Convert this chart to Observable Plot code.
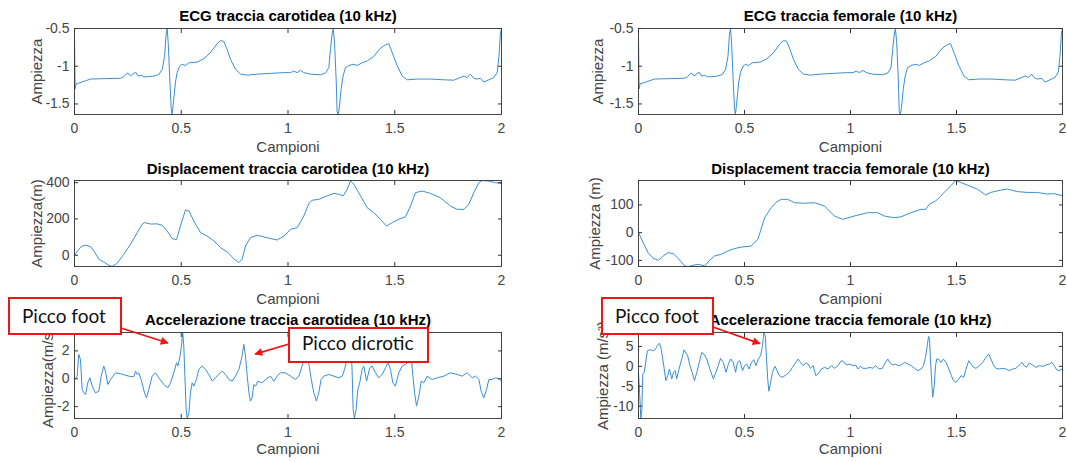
<!DOCTYPE html>
<html><head><meta charset="utf-8">
<script src="https://cdn.jsdelivr.net/npm/d3@7"></script>
<script src="https://cdn.jsdelivr.net/npm/@observablehq/plot@0.6"></script>
<style>
html,body{margin:0;padding:0;background:#fff;}
#fig{position:relative;width:1067px;height:462px;overflow:hidden;background:#fff;}
.cell{position:absolute;}
#ann{position:absolute;left:0;top:0;}
</style></head><body><div id="fig"></div><script>
// ---------- data (time in "Campioni" units, amplitude) ----------
const xTicks = [0, 0.5, 1, 1.5, 2];

const ecgSamples = [
[0,-0.62],[0.003,-1.30],[0.008,-1.23],[0.025,-1.22],[0.045,-1.20],[0.075,-1.17],[0.14,-1.165],[0.215,-1.16],[0.231,-1.14],[0.24,-1.11],[0.25,-1.09],[0.262,-1.13],[0.275,-1.10],[0.287,-1.08],[0.298,-1.13],[0.312,-1.12],[0.325,-1.14],[0.34,-1.14],[0.372,-1.13],[0.395,-1.11],[0.411,-1.04],[0.422,-0.87],[0.429,-0.58],[0.434,-0.50],[0.439,-0.69],[0.447,-1.21],[0.453,-1.56],[0.457,-1.64],[0.462,-1.52],[0.473,-1.21],[0.481,-1.08],[0.493,-1.00],[0.504,-0.975],[0.52,-0.99],[0.536,-0.955],[0.575,-0.945],[0.606,-0.90],[0.637,-0.82],[0.668,-0.70],[0.684,-0.66],[0.699,-0.67],[0.715,-0.78],[0.731,-0.91],[0.754,-1.04],[0.778,-1.105],[0.809,-1.118],[0.856,-1.105],[0.918,-1.095],[0.981,-1.085],[1.012,-1.085],[1.027,-1.065],[1.043,-1.085],[1.059,-1.055],[1.074,-1.085],[1.105,-1.105],[1.152,-1.114],[1.176,-1.09],[1.191,-1.02],[1.199,-0.78],[1.207,-0.56],[1.212,-0.505],[1.218,-0.69],[1.226,-1.21],[1.23,-1.60],[1.235,-1.64],[1.24,-1.56],[1.249,-1.30],[1.258,-1.13],[1.269,-1.02],[1.285,-0.99],[1.308,-0.975],[1.324,-0.99],[1.347,-0.955],[1.371,-0.93],[1.402,-0.87],[1.433,-0.76],[1.457,-0.715],[1.472,-0.70],[1.488,-0.82],[1.511,-0.99],[1.535,-1.13],[1.558,-1.18],[1.605,-1.17],[1.667,-1.17],[1.73,-1.18],[1.777,-1.185],[1.808,-1.15],[1.824,-1.13],[1.839,-1.15],[1.854,-1.105],[1.87,-1.16],[1.886,-1.17],[1.902,-1.16],[1.917,-1.21],[1.941,-1.18],[1.964,-1.15],[1.98,-1.08],[1.988,-0.87],[1.995,-0.56],[2.0,-0.51]
];
const ecgTicks = [-1.5, -1, -0.5];

const dispCarotid = [
[0,0],[0.02,33],[0.036,51],[0.052,55],[0.075,48],[0.091,24],[0.114,-22],[0.137,-37],[0.161,-55],[0.176,-62],[0.2,-44],[0.231,5],[0.262,60],[0.294,125],[0.317,171],[0.328,180],[0.356,172],[0.387,173],[0.411,165],[0.434,134],[0.457,92],[0.478,86],[0.496,161],[0.52,250],[0.536,244],[0.559,189],[0.59,125],[0.621,106],[0.653,79],[0.684,42],[0.715,18],[0.746,-18],[0.77,-40],[0.785,-22],[0.801,51],[0.824,97],[0.856,110],[0.887,101],[0.918,92],[0.949,84],[0.981,106],[1.012,143],[1.043,152],[1.074,216],[1.098,286],[1.113,303],[1.144,308],[1.183,327],[1.215,341],[1.238,336],[1.258,327],[1.277,363],[1.293,410],[1.308,391],[1.34,327],[1.371,262],[1.402,235],[1.433,198],[1.461,161],[1.488,180],[1.519,198],[1.55,212],[1.574,271],[1.597,345],[1.628,354],[1.667,341],[1.714,317],[1.761,271],[1.792,253],[1.824,253],[1.847,281],[1.87,345],[1.894,400],[1.909,412],[1.941,409],[1.972,400],[2.0,396]
];
const dispCarotidTicks = [0, 200, 400];

const dispFemoral = [
[0,0],[0.022,-36],[0.045,-72],[0.069,-92],[0.093,-100],[0.115,-85],[0.14,-72],[0.165,-76],[0.19,-95],[0.218,-120],[0.235,-122],[0.257,-118],[0.281,-114],[0.312,-120],[0.335,-100],[0.359,-84],[0.39,-78],[0.422,-66],[0.455,-57],[0.485,-52],[0.532,-48],[0.563,-24],[0.575,5],[0.595,54],[0.626,90],[0.65,110],[0.673,120],[0.704,120],[0.736,108],[0.78,106],[0.83,108],[0.877,96],[0.924,60],[0.963,48],[1.018,60],[1.081,72],[1.128,72],[1.159,60],[1.206,54],[1.238,57],[1.285,72],[1.332,84],[1.355,84],[1.371,102],[1.402,114],[1.442,145],[1.473,169],[1.496,188],[1.52,181],[1.559,169],[1.598,157],[1.638,136],[1.661,145],[1.708,153],[1.74,157],[1.787,148],[1.834,145],[1.881,145],[1.928,139],[1.959,141],[2.0,133]
];
const dispFemoralTicks = [-100, 0, 100];

const accCarotid = [
[0,-0.05],[0.0125,0.19],[0.02,1.75],[0.028,1.39],[0.036,-0.77],[0.044,-1.01],[0.052,-1.13],[0.062,-0.29],[0.072,0.07],[0.083,-0.53],[0.098,-1.01],[0.114,-0.89],[0.125,0.19],[0.137,0.91],[0.145,0.55],[0.156,-0.41],[0.169,-0.05],[0.192,0.43],[0.215,0.36],[0.254,0.19],[0.278,0.14],[0.286,0.55],[0.294,0.31],[0.301,0.43],[0.312,-0.05],[0.328,-1.01],[0.337,-1.37],[0.348,-0.77],[0.364,0.19],[0.379,0.43],[0.395,0.07],[0.418,-0.41],[0.437,-0.65],[0.45,-0.29],[0.465,0.43],[0.478,1.15],[0.484,0.91],[0.493,1.51],[0.501,2.35],[0.507,3.32],[0.512,2.35],[0.517,0.19],[0.523,-2.20],[0.528,-2.85],[0.536,-2.44],[0.543,-1.01],[0.551,-0.29],[0.559,-0.53],[0.571,-0.05],[0.582,0.67],[0.598,0.91],[0.614,0.67],[0.629,0.31],[0.645,-0.17],[0.66,0.07],[0.676,0.31],[0.692,0.55],[0.707,0.31],[0.723,-0.05],[0.738,-0.17],[0.754,0.19],[0.77,0.67],[0.785,1.63],[0.793,2.47],[0.801,1.63],[0.809,0.19],[0.817,-1.01],[0.824,-1.60],[0.832,-1.37],[0.84,-0.41],[0.848,-0.53],[0.859,-0.17],[0.879,-0.29],[0.895,-0.05],[0.918,0.19],[0.934,-0.17],[0.949,0.19],[0.965,0.43],[0.988,0.43],[1.012,0.19],[1.035,-0.05],[1.051,0.19],[1.066,0.91],[1.082,1.6],[1.098,1.03],[1.109,-0.05],[1.121,-1.01],[1.133,-1.60],[1.144,-1.01],[1.155,-0.05],[1.168,0.19],[1.191,0.31],[1.215,0.19],[1.238,0.07],[1.254,0.19],[1.265,0.67],[1.274,1.27],[1.283,2.4],[1.29,3.2],[1.296,2.35],[1.301,0.19],[1.305,-2.20],[1.311,-2.85],[1.319,-2.20],[1.327,-0.77],[1.336,-0.29],[1.347,0.67],[1.355,0.91],[1.368,-0.17],[1.383,0.79],[1.394,0.91],[1.41,0.43],[1.425,0.07],[1.441,0.31],[1.457,0.79],[1.469,1.15],[1.48,0.67],[1.491,-0.29],[1.503,-0.53],[1.519,0.43],[1.535,0.91],[1.55,1.03],[1.561,1.15],[1.571,1.5],[1.577,2.0],[1.582,0.67],[1.593,-1.01],[1.602,-1.96],[1.613,-1.25],[1.624,-0.17],[1.636,-0.29],[1.652,0.19],[1.675,-0.05],[1.699,0.07],[1.73,0.19],[1.761,0.43],[1.792,0.31],[1.816,0.19],[1.839,0.43],[1.863,0.07],[1.878,0.19],[1.894,-0.05],[1.905,-0.89],[1.917,-1.37],[1.93,-0.77],[1.941,-0.05],[1.956,-0.05],[1.972,0.07],[1.988,0.0],[2.0,-0.17]
];
const accCarotidTicks = [-2, 0, 2];

const accFemoral = [
[0,-1.5],[0.005,-6.5],[0.011,-13.1],[0.016,-10.67],[0.02,-1.92],[0.027,-1.5],[0.036,1.83],[0.042,3.92],[0.055,4.17],[0.067,3.92],[0.078,4.17],[0.089,5.17],[0.099,5.83],[0.107,4.33],[0.118,0.58],[0.129,-3.58],[0.138,-2.33],[0.146,-0.67],[0.157,-3.17],[0.165,-1.5],[0.173,-1.08],[0.18,-3.17],[0.191,-0.67],[0.204,1.83],[0.215,4.17],[0.224,3.33],[0.232,2.67],[0.243,0.17],[0.253,-1.5],[0.264,-3.58],[0.275,-1.5],[0.287,1.0],[0.298,3.5],[0.309,3.08],[0.322,1.83],[0.337,-0.67],[0.353,-3.17],[0.365,-1.5],[0.376,0.17],[0.387,2.0],[0.4,1.0],[0.413,-1.5],[0.424,0.58],[0.435,1.83],[0.447,1.0],[0.458,-1.5],[0.467,1.0],[0.478,1.42],[0.491,-1.08],[0.5,0.17],[0.51,0.58],[0.522,-0.67],[0.533,1.0],[0.544,1.67],[0.554,0.17],[0.565,1.83],[0.576,2.67],[0.585,5.17],[0.591,8.5],[0.598,7.67],[0.604,1.83],[0.61,-3.58],[0.615,-6.25],[0.623,-4.0],[0.632,-1.5],[0.643,0],[0.651,-0.67],[0.664,-2.33],[0.679,-2.75],[0.695,-2.17],[0.711,-1.5],[0.726,-0.25],[0.742,1.0],[0.753,1.83],[0.764,1.0],[0.776,0.17],[0.789,0.83],[0.8,0.58],[0.811,-0.5],[0.824,0.17],[0.836,-2.33],[0.847,-1.92],[0.863,-0.67],[0.878,-0.25],[0.894,-0.67],[0.91,0.17],[0.925,-0.5],[0.941,0.17],[0.957,1.42],[0.968,1.17],[0.98,0.33],[0.996,0.58],[1.012,0.17],[1.024,0.33],[1.035,-0.67],[1.046,0],[1.059,-0.5],[1.075,-0.5],[1.093,-0.25],[1.106,-0.5],[1.118,0.17],[1.134,-0.67],[1.15,-0.5],[1.165,1.0],[1.176,1.83],[1.187,0.83],[1.2,0.33],[1.213,0.58],[1.224,0.17],[1.239,0.33],[1.255,1.0],[1.271,0.58],[1.286,0.17],[1.302,-0.5],[1.318,-1.08],[1.333,-0.67],[1.344,0.17],[1.354,2.25],[1.362,5.17],[1.368,7.5],[1.373,6.83],[1.377,1.83],[1.384,-4.83],[1.388,-7.75],[1.395,-4.83],[1.401,0.17],[1.407,1.83],[1.416,1.83],[1.427,1.0],[1.438,1.83],[1.451,1.0],[1.464,-0.67],[1.476,-2.33],[1.485,-3.58],[1.498,-4.0],[1.511,-3.17],[1.522,-2.33],[1.534,-2.75],[1.545,-0.67],[1.558,1.42],[1.569,0.58],[1.58,-0.25],[1.592,-0.5],[1.608,0.17],[1.624,1.0],[1.639,2.25],[1.652,3.08],[1.663,1.83],[1.674,0.33],[1.686,-0.5],[1.702,-0.67],[1.718,-0.5],[1.733,-0.67],[1.749,-1.08],[1.765,-0.67],[1.78,-0.5],[1.796,0.33],[1.809,1.0],[1.82,0.17],[1.831,-0.25],[1.843,0.83],[1.859,0.33],[1.875,-0.25],[1.89,0.17],[1.906,0],[1.922,0.33],[1.937,0.58],[1.95,1.0],[1.961,0.17],[1.972,-0.83],[1.984,-1.08],[2.0,-0.67]
];
const accFemoralTicks = [-10, -5, 0, 5];

// annotation tips (time, amplitude) on the acceleration panels
const footCarotidTip = [0.44, 2.53];
const dicroticCarotidTip = [0.848, 1.74];
const footFemoralTip = [0.575, 5.6];

// ---------- layout ----------
const COLS = [{left: 0, ml: 74, mr: 29}, {left: 537, ml: 101, mr: 5}];
const ROWS = [
  {top: 0,   h: 160, mt: 28, mb: 46, titleDy: -12, xlabDy: 33},
  {top: 150, h: 160, mt: 30, mb: 44, titleDy: -11, xlabDy: 33},
  {top: 300, h: 162, mt: 32, mb: 44, titleDy: -12, xlabDy: 31}
];
const W = 530;
const LINE = "#3a8fd2";
const AXC = "#444";
const FONT = "'Liberation Sans', Arial, Helvetica, sans-serif";
const fmt = d => String(d);

const panels = [
  {row: 0, col: 0, title: "ECG traccia carotidea (10 kHz)", ylabel: "Ampiezza", ylabDx: -37, data: ecgSamples, yTicks: ecgTicks},
  {row: 0, col: 1, title: "ECG traccia femorale (10 kHz)", ylabel: "Ampiezza", ylabDx: -40, data: ecgSamples, yTicks: ecgTicks},
  {row: 1, col: 0, title: "Displacement traccia carotidea (10 kHz)", ylabel: "Ampiezza(m)", ylabDx: -37, data: dispCarotid, yTicks: dispCarotidTicks},
  {row: 1, col: 1, title: "Displacement traccia femorale (10 kHz)", ylabel: "Ampiezza (m)", ylabDx: -43, data: dispFemoral, yTicks: dispFemoralTicks},
  {row: 2, col: 0, title: "Accelerazione traccia carotidea (10 kHz)", ylabel: "Ampiezza(m/s²)", ylabDx: -26, data: accCarotid, yTicks: accCarotidTicks, key: "accC"},
  {row: 2, col: 1, title: "Accelerazione traccia femorale (10 kHz)", ylabel: "Ampiezza (m/s²)", ylabDx: -35, data: accFemoral, yTicks: accFemoralTicks, key: "accF"}
];

const fig = document.getElementById("fig");
const charts = {};

for (const p of panels) {
  const R = ROWS[p.row], C = COLS[p.col];
  const pts = p.data.map(([t, v]) => ({t, v}));
  const chart = Plot.plot({
    width: W, height: R.h,
    marginTop: R.mt, marginBottom: R.mb, marginLeft: C.ml, marginRight: C.mr,
    style: {fontFamily: FONT, fontSize: "14px", color: AXC, background: "none", overflow: "visible", maxWidth: "none"},
    x: {domain: [0, 2]},
    y: {domain: d3.extent(pts, d => d.v)},
    marks: [
      Plot.line(pts, {x: "t", y: "v", stroke: LINE, strokeWidth: 1}),
      Plot.frame({stroke: "#333", strokeWidth: 0.9}),
      Plot.axisX(xTicks, {anchor: "bottom", tickSize: -4, fill: "none", stroke: "#333", label: null}),
      Plot.axisX(xTicks, {anchor: "top", tickSize: -4, fill: "none", stroke: "#333", label: null}),
      Plot.axisY(p.yTicks, {anchor: "left", tickSize: -4, fill: "none", stroke: "#333", label: null}),
      Plot.axisY(p.yTicks, {anchor: "right", tickSize: -4, fill: "none", stroke: "#333", label: null}),
      Plot.axisX(xTicks, {anchor: "bottom", tickSize: 0, tickPadding: 9, stroke: "none", fill: AXC, tickFormat: fmt, label: null, fontSize: 14}),
      Plot.axisY(p.yTicks, {anchor: "left", tickSize: 0, tickPadding: 5, stroke: "none", fill: AXC, tickFormat: fmt, label: null, fontSize: 14}),
      Plot.text([p.title], {frameAnchor: "top", dy: R.titleDy, lineAnchor: "middle", textAnchor: "middle", fontWeight: "bold", fontSize: 15, fill: "#000"}),
      Plot.text(["Campioni"], {frameAnchor: "bottom", dy: R.xlabDy, lineAnchor: "middle", textAnchor: "middle", fontSize: 15, fill: AXC}),
      Plot.text([p.ylabel], {frameAnchor: "left", rotate: -90, dx: p.ylabDx, lineAnchor: "middle", textAnchor: "middle", fontSize: 15, fill: AXC})
    ]
  });
  const cell = document.createElement("div");
  cell.className = "cell";
  cell.style.left = C.left + "px";
  cell.style.top = R.top + "px";
  cell.style.width = W + "px";
  cell.appendChild(chart);
  fig.appendChild(cell);
  if (p.key) charts[p.key] = {chart, C, R};
}

// ---------- annotations (boxes + arrows) ----------
function tipPx(key, [t, v]) {
  const {chart, C, R} = charts[key];
  return [C.left + chart.scale("x").apply(t), R.top + chart.scale("y").apply(v)];
}
const RED = "#f01414";
const ann = d3.select(fig).append("svg").attr("id", "ann").attr("width", 1067).attr("height", 462);
ann.append("defs").append("marker")
  .attr("id", "ah").attr("viewBox", "0 0 10 10").attr("refX", 9).attr("refY", 5)
  .attr("markerWidth", 9).attr("markerHeight", 8).attr("markerUnits", "userSpaceOnUse").attr("orient", "auto")
  .append("path").attr("d", "M0,0L10,5L0,10z").attr("fill", RED);

const notes = [
  {label: "Picco foot", box: [9, 298, 112, 36], text: [22, 323], from: [121, 328], tip: tipPx("accC", footCarotidTip)},
  {label: "Picco dicrotic", box: [289, 328, 139, 34], text: [302, 350], from: [289, 344], tip: tipPx("accC", dicroticCarotidTip)},
  {label: "Picco foot", box: [602, 298, 111, 36], text: [615, 323], from: [713, 327], tip: tipPx("accF", footFemoralTip)}
];
for (const n of notes) {
  ann.append("line").attr("x1", n.from[0]).attr("y1", n.from[1]).attr("x2", n.tip[0]).attr("y2", n.tip[1])
    .attr("stroke", RED).attr("stroke-width", 1.8).attr("marker-end", "url(#ah)");
  ann.append("rect").attr("x", n.box[0]).attr("y", n.box[1]).attr("width", n.box[2]).attr("height", n.box[3])
    .attr("fill", "#fff").attr("stroke", RED).attr("stroke-width", 2);
  ann.append("text").attr("x", n.text[0]).attr("y", n.text[1]).text(n.label)
    .attr("font-family", "Lato, 'Open Sans', sans-serif").attr("font-size", 19).attr("fill", "#111");
}
</script></body></html>
